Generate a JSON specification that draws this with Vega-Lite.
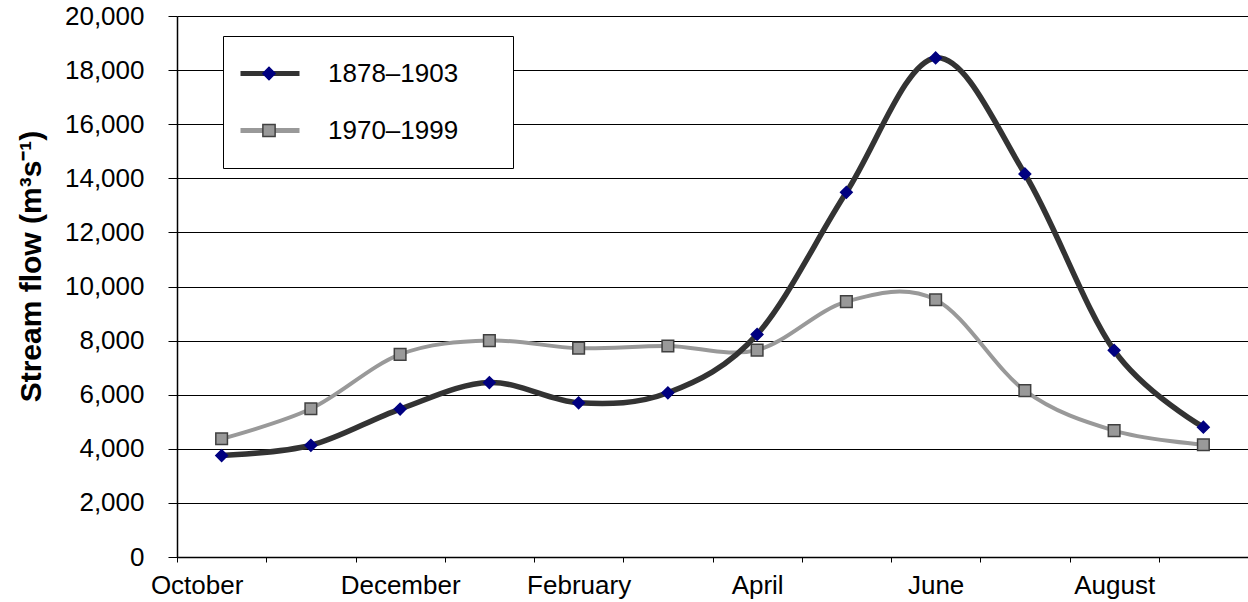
{
  "$schema": "https://vega.github.io/schema/vega-lite/v6.json",
  "width": 1071,
  "height": 541,
  "autosize": {"type": "none"},
  "padding": {"left": 177, "top": 16, "right": 0, "bottom": 45},
  "background": "white",
  "config": {"view": {"stroke": null}, "font": "Liberation Sans"},
  "data": {"values": [
    {"month": "October", "series": "1878–1903", "period": "1878–1903", "flow": 3750},
    {"month": "November", "series": "1878–1903", "period": "1878–1903", "flow": 4130},
    {"month": "December", "series": "1878–1903", "period": "1878–1903", "flow": 5470},
    {"month": "January", "series": "1878–1903", "period": "1878–1903", "flow": 6450},
    {"month": "February", "series": "1878–1903", "period": "1878–1903", "flow": 5700},
    {"month": "March", "series": "1878–1903", "period": "1878–1903", "flow": 6070},
    {"month": "April", "series": "1878–1903", "period": "1878–1903", "flow": 8230},
    {"month": "May", "series": "1878–1903", "period": "1878–1903", "flow": 13480},
    {"month": "June", "series": "1878–1903", "period": "1878–1903", "flow": 18450},
    {"month": "July", "series": "1878–1903", "period": "1878–1903", "flow": 14160},
    {"month": "August", "series": "1878–1903", "period": "1878–1903", "flow": 7640},
    {"month": "September", "series": "1878–1903", "period": "1878–1903", "flow": 4800},
    {"month": "October", "series": "1970–1999", "period": "1970–1999", "flow": 4370},
    {"month": "November", "series": "1970–1999", "period": "1970–1999", "flow": 5480},
    {"month": "December", "series": "1970–1999", "period": "1970–1999", "flow": 7490},
    {"month": "January", "series": "1970–1999", "period": "1970–1999", "flow": 8000},
    {"month": "February", "series": "1970–1999", "period": "1970–1999", "flow": 7720},
    {"month": "March", "series": "1970–1999", "period": "1970–1999", "flow": 7800},
    {"month": "April", "series": "1970–1999", "period": "1970–1999", "flow": 7650},
    {"month": "May", "series": "1970–1999", "period": "1970–1999", "flow": 9440},
    {"month": "June", "series": "1970–1999", "period": "1970–1999", "flow": 9510},
    {"month": "July", "series": "1970–1999", "period": "1970–1999", "flow": 6150},
    {"month": "August", "series": "1970–1999", "period": "1970–1999", "flow": 4670},
    {"month": "September", "series": "1970–1999", "period": "1970–1999", "flow": 4150}
  ]},
  "encoding": {
    "x": {
      "field": "month", "type": "nominal",
      "sort": ["October","November","December","January","February","March","April","May","June","July","August","September"],
      "scale": {"type": "band", "paddingInner": 0, "paddingOuter": 0},
      "axis": {
        "title": null, "labelAngle": 0, "labelFontSize": 26, "labelColor": "black",
        "labelFont": "Liberation Sans",
        "tickSize": 5, "tickColor": "black", "tickBand": "extent",
        "domainColor": "black", "domainWidth": 1.5, "labelPadding": 10,
        "grid": false, "labelOverlap": false,
        "labelOffset": {"expr": "datum.value === 'October' ? -25 : 0"},
        "labelExpr": "indexof(['October','December','February','April','June','August'], datum.value) >= 0 ? datum.value : ''"
      }
    },
    "y": {
      "field": "flow", "type": "quantitative",
      "scale": {"domain": [0, 20000], "nice": false},
      "axis": {
        "title": "Stream flow (m³s⁻¹)", "titleFontSize": 30, "titleFontWeight": "bold",
        "titleColor": "black", "titleFont": "Liberation Sans", "titlePadding": 18,
        "titleY": 250,
        "labelFontSize": 26, "labelColor": "black", "labelFont": "Liberation Sans",
        "tickSize": 9, "tickColor": "black", "labelPadding": 24,
        "domainColor": "black", "domainWidth": 1.5,
        "grid": true, "gridColor": "black", "gridWidth": 1,
        "values": [0,2000,4000,6000,8000,10000,12000,14000,16000,18000,20000],
        "format": ",.0f"
      }
    }
  },
  "layer": [
    {
      "transform": [{"filter": "datum.series === '1970–1999'"}],
      "mark": {"type": "line", "interpolate": "cardinal", "strokeWidth": 4},
      "encoding": {
        "color": {
          "field": "series", "type": "nominal",
          "scale": {"domain": ["1878–1903", "1970–1999"], "range": ["#333333", "#999999"]},
          "legend": {
            "orient": "none", "legendX": 46, "legendY": 20, "title": null, "zindex": 1,
            "symbolType": "stroke", "symbolSize": 3481, "symbolStrokeWidth": 5,
            "labelFontSize": 26, "labelFont": "Liberation Sans", "labelExpr": "''",
            "padding": 9, "clipHeight": 57, "rowPadding": 0,
            "symbolOffset": 6, "labelOffset": 202, "labelLimit": 400,
            "strokeColor": "black", "fillColor": "white"
          }
        }
      }
    },
    {
      "transform": [{"filter": "datum.series === '1878–1903'"}],
      "mark": {"type": "line", "interpolate": "cardinal", "strokeWidth": 5.5},
      "encoding": {
        "color": {
          "field": "series", "type": "nominal",
          "scale": {"domain": ["1878–1903", "1970–1999"], "range": ["#333333", "#999999"]},
          "legend": {
            "orient": "none", "legendX": 46, "legendY": 20, "title": null, "zindex": 1,
            "symbolType": "stroke", "symbolSize": 3481, "symbolStrokeWidth": 5,
            "labelFontSize": 26, "labelFont": "Liberation Sans", "labelExpr": "''",
            "padding": 9, "clipHeight": 57, "rowPadding": 0,
            "symbolOffset": 6, "labelOffset": 202, "labelLimit": 400,
            "strokeColor": "black", "fillColor": "white"
          }
        }
      }
    },
    {
      "mark": {"type": "point", "filled": true, "strokeWidth": 1.5, "opacity": 1, "size": 135},
      "encoding": {
        "shape": {
          "field": "period", "type": "nominal",
          "scale": {"range": ["diamond", "square"]},
          "legend": {
            "orient": "none", "legendX": 46, "legendY": 20, "title": null, "zindex": 2,
            "symbolSize": 150, "symbolStrokeWidth": 1.5,
            "labelFontSize": 26, "labelFont": "Liberation Sans", "labelColor": "black", "labelLimit": 400,
            "padding": 9, "clipHeight": 57, "rowPadding": 0, "symbolOffset": 24, "labelOffset": 46
          }
        },
        "fill": {
          "field": "period", "type": "nominal",
          "scale": {"range": ["#000080", "#999999"]},
          "legend": {
            "orient": "none", "legendX": 46, "legendY": 20, "title": null, "zindex": 2,
            "symbolSize": 150, "symbolStrokeWidth": 1.5,
            "labelFontSize": 26, "labelFont": "Liberation Sans", "labelColor": "black", "labelLimit": 400,
            "padding": 9, "clipHeight": 57, "rowPadding": 0, "symbolOffset": 24, "labelOffset": 46
          }
        },
        "stroke": {
          "field": "period", "type": "nominal",
          "scale": {"range": ["#000080", "#404040"]},
          "legend": {
            "orient": "none", "legendX": 46, "legendY": 20, "title": null, "zindex": 2,
            "symbolSize": 150, "symbolStrokeWidth": 1.5,
            "labelFontSize": 26, "labelFont": "Liberation Sans", "labelColor": "black", "labelLimit": 400,
            "padding": 9, "clipHeight": 57, "rowPadding": 0, "symbolOffset": 24, "labelOffset": 46
          }
        }
      }
    }
  ]
}
